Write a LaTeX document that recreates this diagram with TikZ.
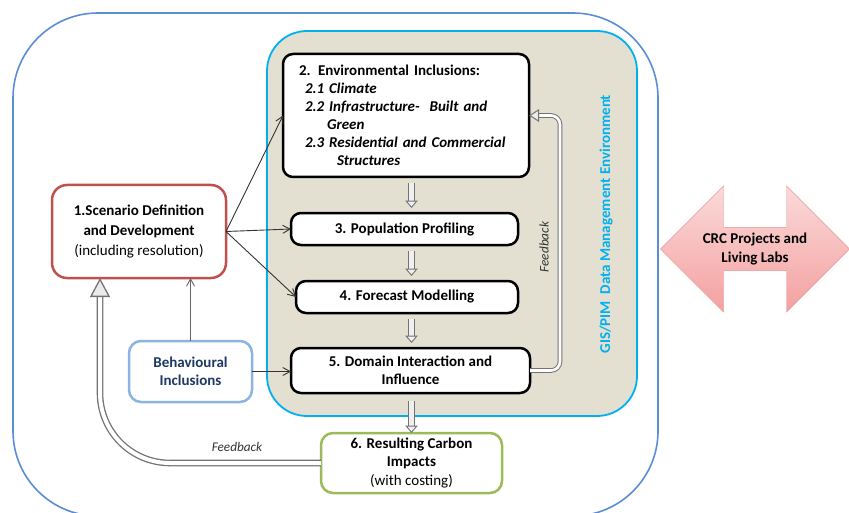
\documentclass[tikz,border=0pt]{standalone}
\usepackage{fontspec}
\setmainfont{Carlito}
\usetikzlibrary{positioning,calc,arrows.meta,shapes.arrows}

\newcommand{\pu}{0.03cm}
\newcommand{\boxfont}{\fontsize{12.8}{15.4}\selectfont}
\definecolor{outerblue}{RGB}{91,141,214}
\definecolor{panelline}{RGB}{0,176,240}
\definecolor{panelfill}{RGB}{227,224,209}
\definecolor{scenred}{RGB}{192,80,77}
\definecolor{behaline}{RGB}{141,179,226}
\definecolor{behatext}{RGB}{31,56,100}
\definecolor{carbgreen}{RGB}{155,187,89}
\definecolor{pinktop}{RGB}{251,218,218}
\definecolor{pinkbot}{RGB}{244,160,160}
\definecolor{pinkline}{RGB}{228,150,150}

\tikzstyle{frame}=[draw=outerblue,line width=1.6*\pu,rounded corners=85*\pu]
\tikzstyle{panel}=[draw=panelline,fill=panelfill,line width=1.8*\pu,rounded corners=40*\pu]
\tikzstyle{stage}=[draw=black,fill=white,line width=2.5*\pu,rounded corners=10*\pu,
                   inner sep=0pt,outer sep=0pt,align=center,font=\boxfont\bfseries]
\tikzstyle{scenario}=[stage,draw=scenred,rounded corners=15*\pu,font=\fontsize{12.8}{17}\selectfont\bfseries]
\tikzstyle{behaviour}=[stage,draw=behaline,text=behatext,rounded corners=12*\pu]
\tikzstyle{result}=[stage,draw=carbgreen,rounded corners=12*\pu]
\tikzstyle{crcarrow}=[double arrow,double arrow head extend=30*\pu,
                      minimum height=189*\pu,minimum width=126*\pu,inner sep=0pt,
                      draw=pinkline,top color=pinktop,bottom color=pinkbot,
                      align=center,font=\boxfont\bfseries]
\tikzstyle{link}=[draw=black!80,line width=0.9*\pu,-{Straight Barb[length=2.2mm,width=2.4mm]}]
\tikzstyle{blockarrow}=[draw=black!55,double=black!6,line width=0.9*\pu,double distance=4.5*\pu,
                        -{Triangle[length=2.2mm,width=3.7mm,fill=black!6]}]
\tikzstyle{feedback}=[draw=black!55,double=white,line width=1*\pu,double distance=2.6*\pu,
                      rounded corners=9*\pu,-{Triangle[length=3mm,width=3.8mm,fill=black!8]}]
\tikzstyle{bigfeedback}=[draw=black!55,double=white,line width=1.3*\pu,double distance=4*\pu,
                         rounded corners=70*\pu,-{Triangle[length=5.7mm,width=6mm,fill=black!8]}]
\tikzstyle{fblabel}=[font=\fontsize{11.3}{13}\selectfont\itshape,text=black!80]

\begin{document}
\begin{tikzpicture}[x=\pu,y=-\pu]
\useasboundingbox (0,0) rectangle (849,513);

\draw [frame] (13,13) rectangle (658,516);
\draw [panel] (267,31) rectangle (637,416);

\node [stage, minimum width=246*\pu, minimum height=123*\pu, text width=214*\pu, align=left] (envi) at (406,115.5)
      {2. Environmental Inclusions:\\
       \hspace*{1.8mm}\textit{2.1 Climate}\\
       \hspace*{1.8mm}\textit{2.2 Infrastructure-\ \ Built and}\\
       \hspace*{8.4mm}\textit{Green}\\
       \hspace*{1.8mm}\textit{2.3 Residential and Commercial}\\
       \hspace*{11.4mm}\textit{Structures}};
\node [stage, minimum width=227*\pu, minimum height=32*\pu, below=36*\pu of envi, xshift=-1.5*\pu] (popu)
      {3. Population Profiling};
\node [stage, minimum width=222*\pu, minimum height=32*\pu, below=36*\pu of popu, xshift=2.5*\pu] (fore)
      {4. Forecast Modelling};
\node [stage, minimum width=239*\pu, minimum height=45*\pu, below=35*\pu of fore, xshift=3.5*\pu] (domi)
      {5. Domain Interaction and\\Influence};
\node [result, minimum width=181*\pu, minimum height=60*\pu, below=40*\pu of domi, xshift=1*\pu] (carb)
      {6. Resulting Carbon\\Impacts\\{\mdseries (with costing)}};

\node [scenario, minimum width=174*\pu, minimum height=93*\pu] (scen) at (139,231.5)
      {1.Scenario Definition\\and Development\\{\mdseries (including resolution)}};
\node [behaviour, minimum width=123*\pu, minimum height=61*\pu] (beha) at (190.5,371.5)
      {Behavioural\\Inclusions};

\node [crcarrow] (crc) at (755,249) {CRC Projects and\\Living Labs};

\node [rotate=90, text=panelline, font=\boxfont\bfseries] (gis) at (606,224)
      {GIS/PIM\ \ Data Management Environment};

% flow down the panel
\coordinate (axis) at (411.5,0);
\draw [blockarrow, shorten <=6*\pu, shorten >=5*\pu] (envi.south -| axis) -- (popu.north -| axis);
\draw [blockarrow, shorten <=6*\pu, shorten >=5*\pu] (popu.south -| axis) -- (fore.north -| axis);
\draw [blockarrow, shorten <=6*\pu, shorten >=5*\pu] (fore.south -| axis) -- (domi.north -| axis);
\draw [blockarrow, shorten <=8*\pu] (domi.south -| axis) -- (carb.north -| axis);

% scenario and behaviour links
\draw [link] (scen.east) -- (envi.west);
\draw [link] (scen.east) -- (popu.west);
\draw [link] (scen.east) -- (fore.west);
\draw [link, draw=black!60] (beha.north) -- (beha.north |- scen.south);
\draw [link] (beha.east) -- (beha.east -| domi.west);

% feedback loops
\draw [feedback] (domi.east) -| ($(envi.east)+(31,0)$) -- (envi.east);
\node [fblabel, rotate=90] (fbin) at (544,247) {Feedback};
\draw [bigfeedback] (carb.west) -| ($(scen.south west)+(48,0)$);
\node [fblabel] (fbout) at (237,447) {Feedback};
\end{tikzpicture}
\end{document}
